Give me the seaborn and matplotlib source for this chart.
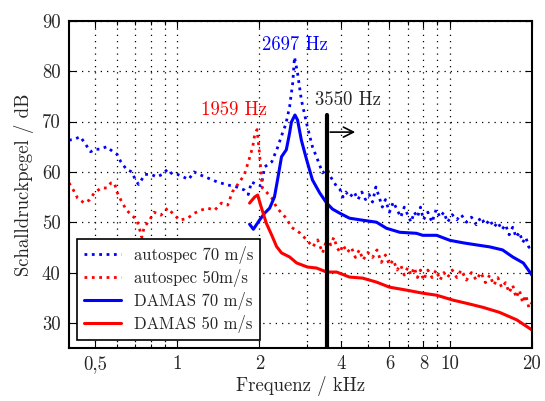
import numpy as np
import pandas as pd
import matplotlib.pyplot as plt
import seaborn as sns

# ==== Data ====
# autospec 70 m/s  (frequency in kHz, level in dB)
auto70_f = [0.40, 0.42, 0.44, 0.46, 0.48, 0.50, 0.52, 0.55, 0.58, 0.60, 0.62, 0.65,
            0.68, 0.70, 0.72, 0.74, 0.76, 0.80, 0.84, 0.88, 0.92, 0.96, 1.00, 1.05,
            1.10, 1.15, 1.20, 1.29, 1.40, 1.53, 1.65, 1.76, 1.82, 1.87, 1.95, 2.03,
            2.09, 2.22, 2.33, 2.43, 2.50, 2.58, 2.65, 2.69, 2.76, 2.85, 3.00, 3.13,
            3.27, 3.41, 3.55, 3.65, 3.75, 3.85, 3.95, 4.05, 4.15, 4.30, 4.45, 4.60,
            4.75, 4.90, 5.05, 5.20, 5.35, 5.50, 5.65, 5.80, 6.00, 6.20, 6.40, 6.60,
            6.80, 7.00, 7.20, 7.40, 7.60, 7.80, 8.00, 8.30, 8.60, 8.90, 9.20, 9.50,
            9.80, 10.2, 10.6, 11.0, 11.5, 12.0, 12.5, 13.0, 13.5, 14.0, 14.5, 15.0,
            15.5, 16.0, 16.5, 17.0, 17.5, 18.0, 18.5, 19.0, 19.5, 20.0]
auto70_db = [66.3, 66.5, 67.0, 65.5, 64.0, 64.5, 64.5, 65.0, 64.0, 63.5, 62.0, 60.5,
             60.0, 58.5, 57.5, 58.5, 59.5, 59.5, 59.0, 59.5, 60.5, 59.5, 59.5, 59.0,
             58.5, 60.0, 59.5, 58.8, 58.0, 57.4, 57.0, 56.4, 55.5, 58.0, 57.5, 57.2,
             61.0, 62.0, 64.8, 67.7, 69.5, 72.9, 77.7, 82.8, 79.6, 74.3, 68.9, 65.0,
             62.4, 59.8, 60.5, 59.0, 58.0, 57.0, 56.5, 55.0, 56.0, 55.0, 56.0, 54.5,
             56.0, 54.5, 55.5, 54.0, 57.0, 55.0, 53.0, 54.5, 52.0, 54.0, 52.5, 51.0,
             53.0, 51.5, 50.0, 52.0, 51.0, 53.0, 50.5, 52.0, 50.0, 52.5, 51.0, 52.0,
             50.0, 51.5, 50.5, 51.5, 50.0, 51.0, 49.5, 51.0, 49.5, 50.5, 49.0, 50.0,
             48.5, 49.5, 47.5, 49.0, 47.0, 48.0, 46.0, 47.0, 45.0, 46.0]

# autospec 50 m/s
auto50_f = [0.40, 0.415, 0.43, 0.44, 0.455, 0.475, 0.495, 0.525, 0.55, 0.57, 0.587, 0.60,
            0.62, 0.65, 0.68, 0.71, 0.725, 0.74, 0.755, 0.79, 0.82, 0.87, 0.92, 0.975,
            1.02, 1.09, 1.155, 1.22, 1.29, 1.37, 1.45, 1.53, 1.59, 1.66, 1.76, 1.84,
            1.89, 1.92, 1.96, 2.00, 2.03, 2.05, 2.12, 2.22, 2.31, 2.41, 2.51, 2.62,
            2.81, 2.98, 3.14, 3.27, 3.41, 3.55, 3.65, 3.75, 3.85, 3.95, 4.05, 4.20,
            4.35, 4.50, 4.65, 4.80, 5.00, 5.20, 5.40, 5.60, 5.80, 6.00, 6.20, 6.40,
            6.60, 6.80, 7.00, 7.20, 7.40, 7.60, 7.80, 8.00, 8.30, 8.60, 8.90, 9.20,
            9.50, 9.80, 10.2, 10.6, 11.0, 11.5, 12.0, 12.5, 13.0, 13.5, 14.0, 14.5,
            15.0, 15.5, 16.0, 16.5, 17.0, 17.5, 18.0, 18.5, 19.0, 19.5, 20.0]
auto50_db = [57.8, 56.4, 54.8, 54.4, 53.8, 54.4, 55.8, 56.8, 56.8, 57.8, 57.8, 56.0,
             54.4, 52.4, 51.4, 50.4, 48.8, 47.0, 49.0, 50.4, 52.0, 51.4, 52.8, 51.4,
             50.4, 50.8, 51.8, 52.4, 52.8, 52.4, 53.8, 53.4, 56.0, 57.4, 59.4, 62.8,
             65.0, 67.3, 68.4, 63.8, 59.4, 56.8, 56.0, 54.8, 53.0, 51.8, 50.8, 49.0,
             47.9, 46.5, 45.1, 46.5, 43.9, 47.0, 45.5, 47.0, 45.0, 44.0, 45.5, 44.0,
             45.0, 43.0, 44.5, 42.5, 44.0, 43.0, 44.5, 42.0, 43.5, 41.5, 42.5, 40.5,
             41.5, 39.5, 41.0, 39.5, 41.0, 39.0, 40.5, 38.5, 40.5, 39.0, 40.5, 38.5,
             40.0, 39.0, 40.5, 39.0, 40.5, 38.5, 40.0, 38.5, 40.0, 38.0, 39.5, 37.5,
             39.0, 37.0, 38.0, 36.0, 37.5, 35.0, 36.5, 34.0, 35.5, 33.0, 34.0]

# DAMAS 70 m/s
damas70_f = [1.84, 1.90, 2.00, 2.09, 2.18, 2.27, 2.33, 2.41, 2.51, 2.58, 2.62, 2.70,
             2.76, 2.85, 2.98, 3.13, 3.33, 3.53, 3.71, 3.94, 4.28, 4.78, 5.38, 5.85,
             6.55, 7.53, 7.95, 8.94, 10.0, 11.2, 12.5, 14.0, 15.6, 17.0, 18.6, 20.0]
damas70_db = [49.6, 48.6, 50.4, 51.8, 52.8, 55.0, 58.4, 63.0, 64.4, 67.7, 69.9, 71.3,
              70.3, 66.3, 62.4, 58.4, 55.8, 53.8, 52.6, 51.8, 50.8, 50.4, 50.0, 48.8,
              48.0, 47.8, 47.4, 47.4, 46.4, 45.9, 45.5, 45.1, 44.5, 43.1, 41.9, 39.5]

# DAMAS 50 m/s
damas50_f = [1.84, 1.92, 1.97, 2.03, 2.12, 2.22, 2.31, 2.41, 2.58, 2.74, 3.00, 3.24,
             3.53, 3.84, 4.28, 4.78, 5.38, 6.00, 6.95, 7.95, 8.94, 10.3, 11.5, 13.2,
             15.2, 17.6, 20.0]
damas50_db = [53.8, 55.0, 55.4, 53.0, 49.8, 47.4, 45.2, 43.9, 43.1, 41.9, 41.1, 40.9,
              40.1, 40.1, 39.1, 38.9, 38.1, 37.1, 36.5, 35.9, 35.5, 34.5, 33.9, 33.1,
              32.1, 30.6, 28.6]

xtick_vals = [0.5, 1, 2, 4, 6, 8, 10, 20]
xtick_labels = ["0,5", "1", "2", "4", "6", "8", "10", "20"]
ytick_vals = [30, 40, 50, 60, 70, 80, 90]

cut_freq = 3.55   # kHz
cut_top = 71.2

# ==== Style ====
sns.set_style("ticks")
plt.rcParams['font.family'] = ['cmr10', 'DejaVu Serif']
plt.rcParams['mathtext.fontset'] = 'cm'
plt.rcParams['axes.unicode_minus'] = False

fig = plt.figure(figsize=(5.45, 4.01), dpi=100)
ax = fig.add_axes([0.1266, 0.132, 0.8494, 0.816])

series = [
    (auto70_f, auto70_db, "blue", ":", 2.0, "autospec 70 m/s"),
    (auto50_f, auto50_db, "red", ":", 2.0, "autospec 50m/s"),
    (damas70_f, damas70_db, "blue", "-", 2.2, "DAMAS 70 m/s"),
    (damas50_f, damas50_db, "red", "-", 2.2, "DAMAS 50 m/s"),
]
for f, db, col, ls, lw, lab in series:
    d = pd.DataFrame({"f": f, "db": db})
    sns.lineplot(data=d, x="f", y="db", ax=ax, color=col, linestyle=ls,
                 linewidth=lw, label=lab, estimator=None, sort=False)

# cut-off marker
ax.plot([cut_freq, cut_freq], [25, cut_top], color="black", linewidth=3)
ax.annotate("", xy=(4.6, 67.9), xytext=(cut_freq, 67.9),
            arrowprops=dict(arrowstyle="->", color="black", lw=1.2,
                            mutation_scale=18))
ax.text(cut_freq * 1.19, 74.2, "3550 Hz", ha="center", va="center", fontsize=13.5)
ax.text(2.697, 85.2, "2697 Hz", ha="center", va="center", fontsize=13.5, color="blue")
ax.text(1.959 * 0.82, 72.3, "1959 Hz", ha="center", va="center", fontsize=13.5, color="red")

ax.set_xscale("log")
ax.set_xlim(0.4, 20)
ax.set_ylim(25, 90)
ax.set_xticks(xtick_vals)
ax.set_xticklabels(xtick_labels)
ax.set_xticks([0.6, 0.7, 0.8, 0.9, 3, 5, 7, 9], minor=True)
ax.xaxis.set_minor_formatter(plt.NullFormatter())
ax.set_yticks(ytick_vals)
ax.tick_params(which="both", direction="in", top=True, right=True, labelsize=13.5,
               width=0.8, color="black")
ax.tick_params(which="major", length=5, pad=6)
ax.tick_params(axis="x", which="major", pad=5)
ax.tick_params(which="minor", length=3)

ax.grid(True, which="both", axis="x", color="black", linestyle=(0, (1, 4)), linewidth=0.9)
ax.grid(True, which="major", axis="y", color="black", linestyle=(0, (1, 4)), linewidth=0.9)
for s in ax.spines.values():
    s.set_visible(True)
    s.set_linewidth(1.5)
    s.set_color("black")

ax.set_xlabel("Frequenz / kHz", fontsize=13.5, labelpad=2)
ax.set_ylabel("Schalldruckpegel / dB", fontsize=13.5, labelpad=6)

leg = ax.legend(loc="lower left", fontsize=12, fancybox=False, framealpha=1,
                edgecolor="black", borderaxespad=0.5, handlelength=2.2,
                labelspacing=0.3, borderpad=0.4, handletextpad=0.8)
leg.get_frame().set_linewidth(1.2)

fig.savefig("out.png", dpi=100)
